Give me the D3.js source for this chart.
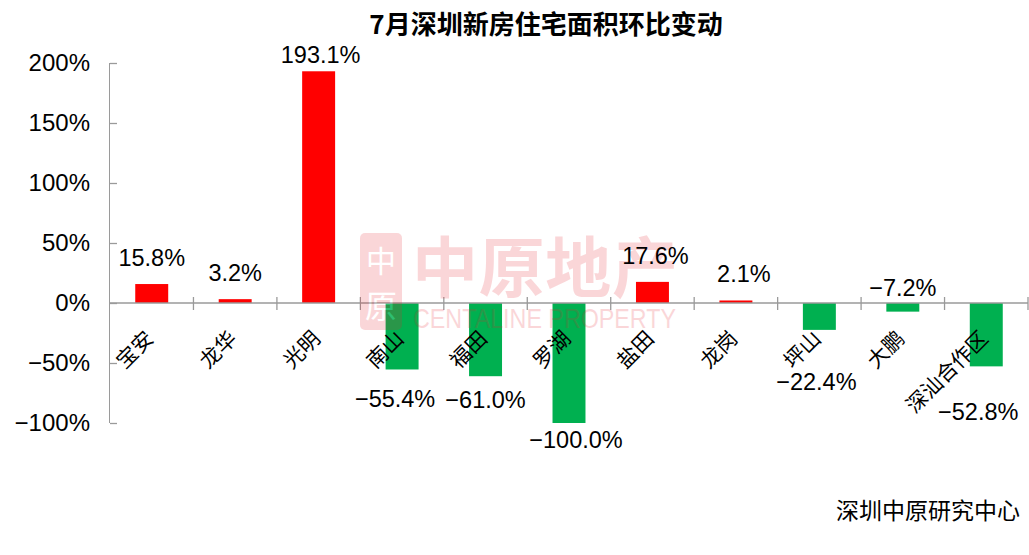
<!DOCTYPE html>
<html><head><meta charset="utf-8">
<script src="https://cdn.jsdelivr.net/npm/d3@7"></script>
<style>
html,body{margin:0;padding:0;background:#fff;}
svg{display:block;}
</style></head>
<body>
<script>
const categories = ['宝安','龙华','光明','南山','福田','罗湖','盐田','龙岗','坪山','大鹏','深汕合作区'];
const values = [15.8, 3.2, 193.1, -55.4, -61.0, -100.0, 17.6, 2.1, -22.4, -7.2, -52.8];
const yTicks = [-100, -50, 0, 50, 100, 150, 200];
// data-label placement (value units for vertical centre, px nudge horizontally) as in the original
const labelAt = [37.9, 25.4, 207.5, -79.6, -80, -114, 40, 24.2, -65.8, 12.9, -90];
const labelNudge = [0, 0, 2, -7, 0, 7, 3, 8, -3, 0, -8];
const title = '7月深圳新房住宅面积环比变动';
const source = '深圳中原研究中心';

const W = 1029, H = 555;
const svg = d3.select('body').append('svg').attr('width', W).attr('height', H);

const x = d3.scaleBand().domain(categories).range([110, 1028]).padding(0);
const y = d3.scaleLinear().domain([-100, 200]).range([423, 63]);
const fmt = v => (v < 0 ? '\u2212' : '') + Math.abs(v).toFixed(1) + '%';
const numFont = "'Liberation Sans', Arial, sans-serif";
const cjkFont = "'Noto Sans CJK SC', 'Noto Sans', sans-serif";
const axisColor = '#9a9a9a';

// title
svg.append('text').attr('x', 546).attr('y', 34).attr('text-anchor', 'middle')
  .attr('font-family', cjkFont).attr('font-weight', 'bold').attr('font-size', 26)
  .attr('fill', '#000').text(title);

// y axis
const yAxis = d3.axisLeft(y).tickValues(yTicks).tickSize(-7).tickPadding(20)
  .tickFormat(d => (d < 0 ? '\u2212' : '') + Math.abs(d) + '%');
const gy = svg.append('g').attr('transform', 'translate(110,0)').call(yAxis);
gy.select('.domain').attr('stroke', axisColor).attr('d', `M-0.5,${y(-100)}V${y(200)}`);
gy.selectAll('.tick line').attr('stroke', axisColor).attr('stroke-width', 1.3);
gy.selectAll('.tick text').attr('font-family', numFont).attr('font-size', 24).attr('fill', '#000');

// bars
const bw = x.bandwidth() * 0.395;
svg.append('g').selectAll('rect').data(values).join('rect')
  .attr('x', (d, i) => x(categories[i]) + x.bandwidth() / 2 - bw / 2)
  .attr('width', bw)
  .attr('y', d => y(Math.max(0, d)))
  .attr('height', d => Math.abs(y(d) - y(0)))
  .attr('fill', d => d >= 0 ? '#ff0000' : '#00b050');

// x axis line and ticks
const gx = svg.append('g');
gx.append('line').attr('x1', 110).attr('x2', 1028).attr('y1', y(0)).attr('y2', y(0))
  .attr('stroke', axisColor).attr('stroke-width', 1.3);
const bounds = categories.map(c => x(c)).concat([x.range()[1]]);
gx.selectAll('line.t').data(bounds.slice(1)).join('line').attr('class', 't')
  .attr('x1', d => d).attr('x2', d => d).attr('y1', y(0) - 6).attr('y2', y(0) + 7)
  .attr('stroke', axisColor).attr('stroke-width', 1.3);

// watermark
const wm = svg.append('g').attr('opacity', 0.18).attr('fill', '#e8242f');
wm.append('rect').attr('x', 360).attr('y', 233).attr('width', 42).attr('height', 97).attr('rx', 5);
wm.append('text').attr('x', 381).attr('y', 272).attr('text-anchor', 'middle').attr('fill', '#fff')
  .attr('font-family', cjkFont).attr('font-size', 30).text('中');
wm.append('text').attr('x', 381).attr('y', 318).attr('text-anchor', 'middle').attr('fill', '#fff')
  .attr('font-family', cjkFont).attr('font-size', 32).text('原');
wm.append('text').attr('x', 412).attr('y', 292).attr('font-family', cjkFont).attr('font-weight', 'bold')
  .attr('font-size', 66).attr('textLength', 266).text('中原地产');
wm.append('text').attr('x', 413).attr('y', 328).attr('font-family', numFont)
  .attr('font-size', 28).attr('textLength', 263).attr('lengthAdjust', 'spacingAndGlyphs').text('CENTALINE PROPERTY');

// category labels
svg.append('g').selectAll('text').data(categories).join('text')
  .attr('transform', d => `translate(${x(d) + x.bandwidth() / 2 + 3},340) rotate(-45)`)
  .attr('text-anchor', 'end').attr('font-family', cjkFont).attr('font-size', 21)
  .attr('fill', '#000').text(d => d);

// value labels
svg.append('g').selectAll('text').data(values).join('text')
  .attr('x', (d, i) => x(categories[i]) + x.bandwidth() / 2 + labelNudge[i])
  .attr('y', (d, i) => y(labelAt[i]) + 8.5)
  .attr('text-anchor', 'middle').attr('font-family', numFont).attr('font-size', 23.5)
  .attr('fill', '#000').text(d => fmt(d));

// source
svg.append('text').attr('x', 1020).attr('y', 519).attr('text-anchor', 'end')
  .attr('font-family', cjkFont).attr('font-size', 23).attr('fill', '#000').text(source);
</script>
</body></html>
